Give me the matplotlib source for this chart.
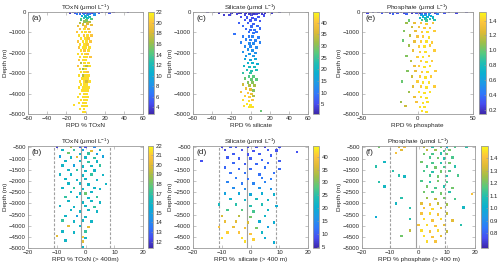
import numpy as np
import matplotlib
matplotlib.use("Agg")
import matplotlib.pyplot as plt
from matplotlib.colors import LinearSegmentedColormap

plt.rcParams['font.family'] = ['Liberation Sans', 'DejaVu Sans']
plt.rcParams['mathtext.fontset'] = 'custom'
plt.rcParams['mathtext.rm'] = 'Liberation Sans'

# (RPD %, depth m, concentration)
toxn_all = [
    (-16, -30, 3.5), (-13, -10, 4), (-11, -60, 5), (-8, -20, 3), (-6, -90, 6), (-5, -10, 2.8),
    (-3, -40, 4), (-2, -120, 8), (-1, -20, 3), (0, -70, 5), (1, -10, 3), (2, -150, 9), (3, -40, 4),
    (4, -100, 7), (5, -20, 3.5), (6, -60, 5), (7, -10, 3), (8, -30, 4), (10, -80, 6), (12, -20, 3),
    (14, -50, 5), (17, -10, 3), (21, -10, 4), (25, -30, 5), (29, -20, 3), (44, -10, 3), (-9, -110, 7),
    (9, -140, 8),
    (-4, -200, 10), (0, -230, 11), (4, -250, 12), (-2, -300, 13), (2, -320, 12), (6, -350, 14),
    (-5, -380, 14), (1, -420, 15), (-1, -480, 16), (4, -500, 17), (-6, -540, 17), (2, -580, 18),
    (-3, -620, 18), (6, -660, 19), (-8, -700, 19), (0, -720, 20),
    (-6, -850, 20), (-1, -850, 21), (3, -850, 20),
    (-9, -1000, 20), (-4, -1000, 21), (0, -1000, 21), (4, -1000, 20),
    (-7, -1150, 21), (-2, -1150, 20), (2, -1150, 21), (6, -1150, 20),
    (-5, -1300, 21), (0, -1300, 21), (3, -1300, 20),
    (-8, -1450, 20), (-3, -1450, 21), (1, -1450, 21), (5, -1450, 20),
    (-6, -1600, 21), (-1, -1600, 21), (2, -1600, 20),
    (-7, -1750, 20), (-3, -1750, 21), (0, -1750, 21), (4, -1750, 21),
    (-5, -1900, 21), (-1, -1900, 20), (3, -1900, 21),
    (-8, -2050, 21), (-4, -2050, 21), (0, -2050, 21), (2, -2050, 20),
    (-6, -2200, 21), (-2, -2200, 21), (1, -2200, 21), (5, -2200, 20),
    (-7, -2350, 20), (-3, -2350, 21), (0, -2350, 21),
    (-5, -2500, 17), (-1, -2500, 21), (3, -2500, 21),
    (-8, -2650, 20), (-2, -2650, 21), (1, -2650, 17), (4, -2650, 21),
    (-6, -2800, 21), (-3, -2800, 16), (0, -2800, 21),
    (-5, -2950, 21), (-1, -2950, 21), (2, -2950, 20),
    (-7, -3100, 21), (-3, -3100, 17), (0, -3100, 21), (3, -3100, 21),
    (-4, -3250, 21), (-1, -3250, 21), (2, -3250, 21),
    (-6, -3400, 21), (-2, -3400, 21), (1, -3400, 18), (4, -3400, 21),
    (-5, -3550, 21), (-2, -3550, 21), (1, -3550, 21),
    (-7, -3700, 21), (-3, -3700, 21), (0, -3700, 21), (3, -3700, 21),
    (-4, -3850, 21), (-1, -3850, 21), (2, -3850, 21),
    (-6, -4000, 21), (-2, -4000, 21), (1, -4000, 21),
    (-8, -4150, 21), (-3, -4150, 21), (0, -4150, 21), (2, -4150, 21),
    (-5, -4300, 21), (-1, -4300, 21), (1, -4300, 21),
    (-7, -4450, 21), (-3, -4450, 21), (0, -4450, 21),
    (-12, -4550, 21), (-4, -4600, 21), (-1, -4600, 21), (1, -4600, 21),
    (-6, -4750, 21), (-2, -4750, 21), (-3, -4900, 21), (-1, -4900, 21),
]

silicate_all = [
    (-45, -20, 2), (-38, -10, 3), (-33, -40, 2), (-28, -150, 3), (-25, -20, 2), (-20, -60, 3),
    (-17, -10, 2), (-14, -100, 4), (-12, -30, 2), (-10, -70, 3), (-8, -10, 2), (-6, -130, 4),
    (-5, -40, 2), (-3, -20, 1.5), (-2, -80, 3), (-1, -10, 2), (0, -50, 2), (1, -160, 4), (2, -20, 2),
    (3, -90, 3), (4, -30, 2), (5, -10, 2), (6, -120, 4), (8, -50, 3), (10, -20, 2), (12, -90, 3),
    (15, -30, 2), (18, -10, 2), (22, -60, 3), (30, -20, 2), (-22, -170, 4), (14, -180, 5),
    (-10, -250, 5), (-4, -280, 6), (2, -300, 5), (8, -260, 6), (-6, -400, 6), (0, -420, 6),
    (5, -380, 7), (10, -450, 6), (-12, -550, 7), (-3, -550, 7), (3, -600, 7), (-8, -700, 8),
    (1, -720, 8), (7, -700, 8), (-5, -850, 8), (0, -880, 8), (4, -900, 9), (10, -820, 8),
    (-2, -1000, 9), (3, -1050, 9), (6, -1000, 9), (-17, -1100, 9),
    (-8, -1200, 10), (-2, -1200, 10), (2, -1200, 11), (8, -1250, 10), (-5, -1350, 11),
    (0, -1380, 11), (5, -1400, 11), (-10, -1500, 11), (-1, -1550, 12), (3, -1550, 12),
    (10, -1500, 11), (-6, -1700, 12), (0, -1700, 12), (6, -1750, 12), (-3, -1850, 13),
    (2, -1900, 13), (-8, -1950, 13), (5, -2000, 13), (-1, -2050, 14), (3, -2150, 14), (-5, -2150, 14),
    (-6, -2300, 16), (0, -2350, 17), (5, -2300, 17), (-3, -2500, 19), (2, -2500, 19), (7, -2550, 18),
    (-7, -2650, 20), (-1, -2700, 21), (4, -2700, 21), (-4, -2850, 22), (1, -2900, 23), (6, -2850, 22),
    (-8, -3000, 24), (0, -3000, 24),
    (-2, -3150, 26), (3, -3150, 27), (-6, -3250, 28), (1, -3300, 28), (6, -3300, 27), (-3, -3450, 30),
    (2, -3450, 30),
    (-8, -3550, 35), (-1, -3600, 33), (4, -3600, 32), (-5, -3750, 38), (0, -3800, 37), (3, -3850, 30),
    (-10, -3900, 39), (-3, -3950, 40), (1, -4000, 38), (-6, -4100, 41), (-1, -4150, 41), (3, -4100, 33),
    (-8, -4300, 42), (-2, -4350, 42), (2, -4300, 40), (-4, -4500, 43), (0, -4550, 43), (-7, -4600, 42),
    (-1, -4650, 43), (2, -4650, 42), (11, -4850, 28),
]

phosphate_all = [
    (-48, -10, 0.2), (-45, -30, 0.25), (-40, -10, 0.2), (-35, -20, 0.2), (-32, -50, 0.3), (-28, -10, 0.2),
    (-25, -40, 0.25), (-20, -20, 0.2), (-18, -60, 0.3), (-15, -10, 0.2), (-12, -30, 0.25), (-10, -80, 0.35),
    (-8, -10, 0.2), (-5, -40, 0.2), (-3, -20, 0.2), (-1, -60, 0.3), (0, -10, 0.2), (2, -30, 0.2),
    (4, -90, 0.4), (5, -20, 0.2), (7, -50, 0.3), (9, -10, 0.2), (11, -70, 0.35), (13, -20, 0.2),
    (16, -40, 0.25), (20, -10, 0.2), (24, -60, 0.3), (28, -20, 0.2), (35, -30, 0.25), (44, -10, 0.2),
    (-22, -90, 0.35), (18, -110, 0.45),
    (3, -150, 0.55), (7, -170, 0.6), (10, -140, 0.55), (12, -200, 0.65), (5, -230, 0.7), (9, -260, 0.7),
    (14, -280, 0.75), (2, -300, 0.75), (7, -330, 0.8), (11, -360, 0.85), (4, -400, 0.9), (8, -430, 0.9),
    (-8, -420, 1.0), (15, -400, 0.85),
    (-10, -550, 1.1), (-3, -550, 1.3), (3, -550, 1.35), (8, -600, 1.4), (14, -550, 1.35),
    (-5, -750, 1.2), (1, -750, 1.35), (6, -800, 1.4), (11, -780, 1.4),
    (-12, -950, 1.05), (-2, -950, 1.3), (4, -1000, 1.4), (9, -1000, 1.45), (15, -950, 1.4),
    (-7, -1150, 1.15), (0, -1200, 1.35), (5, -1200, 1.4), (10, -1250, 1.45),
    (-13, -1400, 1.0), (-3, -1450, 1.3), (3, -1450, 1.4), (8, -1450, 1.45), (13, -1500, 1.4),
    (-8, -1650, 1.1), (1, -1700, 1.4), (6, -1700, 1.45), (11, -1650, 1.4),
    (-4, -1900, 1.3), (2, -1950, 1.4), (7, -1950, 1.45), (15, -1900, 1.4),
    (-10, -2150, 1.05), (0, -2200, 1.4), (5, -2200, 1.45), (10, -2150, 1.4),
    (-6, -2400, 1.15), (3, -2400, 1.4), (8, -2450, 1.45), (13, -2400, 1.4),
    (-3, -2650, 1.3), (1, -2650, 1.4), (6, -2700, 1.45), (11, -2650, 1.45),
    (-9, -2900, 1.05), (-2, -2900, 1.3), (4, -2950, 1.4), (9, -2950, 1.45), (16, -2900, 1.4),
    (-5, -3150, 1.2), (2, -3150, 1.4), (7, -3200, 1.45), (12, -3150, 1.4),
    (-14, -3400, 1.0), (0, -3400, 1.4), (5, -3450, 1.45), (10, -3450, 1.45),
    (-4, -3650, 1.25), (3, -3650, 1.4), (8, -3700, 1.45), (15, -3650, 1.4),
    (-8, -3900, 1.1), (1, -3900, 1.45), (6, -3950, 1.45), (11, -3900, 1.45),
    (-3, -4150, 1.3), (3, -4150, 1.45), (8, -4200, 1.45),
    (-15, -4400, 1.1), (-1, -4400, 1.35), (5, -4450, 1.45), (9, -4400, 1.45),
    (-11, -4600, 1.2), (2, -4650, 1.45), (6, -4650, 1.45), (4, -4850, 1.45), (8, -4900, 1.45),
]

toxn_deep = [
    (-10, -460, 12), (-2, -460, 13), (0, -460, 12.5), (3, -470, 14), (-5, -470, 19),
    (-8, -600, 16), (-4, -620, 17), (-1, -600, 15), (2, -650, 20), (5, -620, 16),
    (-6, -750, 18), (-2, -780, 16), (1, -760, 17), (4, -800, 15),
    (-9, -900, 15), (-5, -950, 16), (-3, -920, 20), (0, -950, 16), (3, -980, 17), (6, -900, 15),
    (-7, -1100, 16), (-2, -1100, 16), (1, -1150, 17), (4, -1120, 16),
    (-8, -1300, 16), (-4, -1300, 15), (-1, -1350, 16), (2, -1330, 16), (5, -1300, 17),
    (-6, -1500, 16), (-3, -1500, 17), (0, -1550, 16), (3, -1520, 16),
    (-9, -1700, 16), (-5, -1700, 16), (-1, -1750, 16), (2, -1700, 17), (6, -1720, 16),
    (-7, -1900, 16), (-3, -1950, 16), (0, -1900, 16), (4, -1950, 16),
    (-6, -2100, 16), (-2, -2100, 16), (1, -2150, 16), (7, -2130, 16),
    (-8, -2300, 16), (-4, -2300, 17), (-1, -2350, 16), (3, -2320, 16), (5, -2350, 16),
    (-5, -2500, 16), (-2, -2550, 16), (0, -2550, 18), (2, -2500, 16),
    (-7, -2700, 17), (-3, -2700, 16), (1, -2750, 16), (4, -2720, 17),
    (-6, -2900, 16), (-1, -2950, 16), (2, -2900, 16), (5, -2950, 16),
    (-9, -3100, 16), (-4, -3150, 16), (0, -3100, 16), (3, -3150, 17),
    (-5, -3300, 16), (-2, -3350, 16), (1, -3300, 16), (4, -3350, 16),
    (-7, -3550, 16), (-3, -3550, 15), (0, -3600, 16),
    (-8, -3750, 17), (-4, -3800, 16), (-1, -3750, 16), (2, -3800, 16),
    (-6, -4000, 20), (-2, -4000, 16), (1, -4050, 20),
    (-8, -4250, 16), (-4, -4300, 16), (0, -4250, 17),
    (-10, -4450, 20), (-1, -4500, 21), (0, -4550, 16),
    (-7, -4650, 16), (-1, -4700, 20), (-1, -4950, 16),
]

silicate_deep = [
    (-10, -460, 8), (-5, -470, 9), (-1, -460, 8), (2, -470, 9), (5, -460, 8), (10, -470, 9), (-7, -470, 10),
    (16, -700, 9), (-9, -600, 8), (-3, -620, 9), (1, -650, 9), (6, -600, 10), (9, -630, 9),
    (-6, -800, 10), (-1, -820, 9), (3, -800, 10), (7, -850, 10),
    (-17, -1100, 9), (-8, -950, 10), (-4, -1000, 10), (0, -1000, 10), (4, -1050, 11), (10, -1100, 10),
    (-6, -1200, 11), (-2, -1250, 10), (2, -1250, 11), (6, -1200, 11),
    (-9, -1400, 11), (-4, -1450, 11), (0, -1450, 11), (5, -1400, 12), (10, -1450, 11),
    (-7, -1650, 12), (-2, -1650, 12), (3, -1700, 12), (8, -1650, 12),
    (-5, -1850, 13), (-1, -1900, 12), (4, -1850, 13), (7, -1900, 13),
    (-8, -2050, 14), (-3, -2100, 13), (1, -2100, 14), (5, -2050, 14),
    (-6, -2300, 15), (-2, -2350, 15), (3, -2300, 16), (7, -2350, 16),
    (-9, -2550, 18), (-4, -2550, 19), (0, -2600, 19), (4, -2550, 20), (8, -2600, 21),
    (-7, -2800, 21), (-2, -2850, 22), (2, -2800, 23), (6, -2850, 22),
    (-11, -3050, 23), (-5, -3050, 25), (0, -3100, 25), (4, -3050, 24), (9, -3100, 20),
    (-8, -3300, 27), (-3, -3300, 28), (1, -3350, 27), (6, -3300, 22),
    (-10, -3550, 36), (-4, -3550, 34), (0, -3600, 30), (5, -3550, 22),
    (-9, -3800, 38), (-5, -3800, 37), (-1, -3850, 36), (3, -3800, 20), (8, -3850, 20),
    (-11, -4050, 40), (-6, -4050, 38), (-2, -4100, 39), (2, -4100, 30), (6, -4050, 18),
    (-8, -4300, 41), (-4, -4300, 40), (0, -4350, 40), (4, -4300, 22),
    (-10, -4550, 42), (-3, -4550, 42), (1, -4600, 41), (5, -4550, 20),
    (-2, -4700, 42), (8, -4750, 20),
]

phosphate_deep = [
    (-14, -470, 1.2), (-7, -470, 1.35), (-5, -480, 1.4), (2, -470, 1.3), (5, -460, 1.1), (8, -470, 1.2),
    (10, -460, 1.0), (13, -470, 1.15), (17, -470, 1.1),
    (-6, -600, 1.35), (3, -620, 1.3), (6, -600, 1.25), (9, -650, 1.15), (11, -620, 1.2),
    (-8, -750, 1.4), (2, -780, 1.2), (5, -800, 1.15), (8, -760, 1.1), (10, -800, 1.2),
    (4, -950, 1.15), (7, -980, 1.2), (9, -1000, 1.1), (12, -950, 1.15),
    (-12, -1150, 1.05), (1, -1150, 1.2), (5, -1200, 1.15), (8, -1180, 1.1), (11, -1200, 1.2),
    (-15, -1350, 1.1), (3, -1350, 1.15), (6, -1400, 1.2), (9, -1380, 1.15), (13, -1350, 1.1),
    (-9, -1550, 1.1), (2, -1550, 1.15), (5, -1600, 1.1), (8, -1580, 1.2), (11, -1550, 1.15),
    (-7, -1750, 1.1), (-5, -1800, 1.05), (4, -1750, 1.15), (7, -1800, 1.2), (10, -1780, 1.1), (14, -1750, 1.15),
    (-14, -2050, 1.1), (1, -2000, 1.15), (4, -2050, 1.1), (7, -2000, 1.2), (10, -2050, 1.15),
    (-12, -2250, 1.05), (3, -2250, 1.2), (6, -2300, 1.15), (9, -2250, 1.1), (12, -2300, 1.2),
    (2, -2500, 1.2), (5, -2500, 1.15), (8, -2550, 1.2), (11, -2500, 1.1), (19, -2580, 1.4),
    (-6, -2750, 1.1), (3, -2750, 1.25), (6, -2800, 1.3), (9, -2750, 1.2), (13, -2800, 1.15),
    (-8, -3000, 1.05), (1, -3000, 1.35), (4, -3050, 1.4), (7, -3000, 1.3), (10, -3050, 1.25),
    (-3, -3200, 1.1), (2, -3200, 1.4), (5, -3250, 1.45), (8, -3200, 1.35), (16, -3170, 1.05),
    (-15, -3600, 1.0), (1, -3450, 1.4), (4, -3450, 1.45), (7, -3500, 1.4), (10, -3450, 1.3),
    (-3, -3700, 1.1), (2, -3700, 1.45), (5, -3750, 1.4), (8, -3700, 1.45), (12, -3750, 1.35),
    (0, -3950, 1.4), (3, -3950, 1.45), (6, -4000, 1.4), (9, -3950, 1.35), (15, -3950, 1.1),
    (-3, -4200, 1.3), (1, -4200, 1.45), (4, -4250, 1.4), (7, -4200, 1.45), (10, -4250, 1.3),
    (-6, -4450, 1.2), (2, -4450, 1.45), (5, -4500, 1.4), (8, -4450, 1.35),
    (3, -4700, 1.45), (6, -4700, 1.4),
]

titles = ['TOxN (μmol L$^{-1}$)', 'Silicate (μmol L$^{-1}$)', 'Phosphate (μmol L$^{-1}$)']
xlabels_all = ['RPD % TOxN', 'RPD % silicate', 'RPD % phosphate']
xlabels_deep = ['RPD % TOxN (> 400m)', 'RPD %  silicate (> 400 m)', 'RPD % phosphate (> 400 m)']
clims_all = [(2.7, 22.1), (0.7, 44.7), (0.14, 1.52)]
clims_deep = [(11.3, 22.0), (4.6, 44.2), (0.68, 1.5)]
cticks_all = [np.arange(4, 23, 2), np.arange(5, 41, 5), [0.2, 0.4, 0.6, 0.8, 1, 1.2, 1.4]]
cticks_deep = [np.arange(12, 23, 1), np.arange(5, 41, 5), [0.8, 0.9, 1, 1.1, 1.2, 1.3, 1.4]]
# mean and +/- 2 sd lines in lower panels
mean_lines = [-1.5, -1.2, -0.8]
sd_lines = [(-11.0, 8.5), (-10.9, 8.9), (-10.0, 9.5)]

# parula-like colormap
parula = LinearSegmentedColormap.from_list('parula', [
    (0.00, (0.2422, 0.1504, 0.6603)),
    (0.10, (0.2780, 0.3030, 0.9420)),
    (0.20, (0.1900, 0.4700, 0.9800)),
    (0.30, (0.1200, 0.6000, 0.9000)),
    (0.40, (0.0400, 0.6900, 0.8200)),
    (0.50, (0.1300, 0.7450, 0.7000)),
    (0.60, (0.3500, 0.7900, 0.4900)),
    (0.70, (0.6200, 0.7500, 0.2900)),
    (0.80, (0.8700, 0.7300, 0.2100)),
    (0.90, (0.9900, 0.7700, 0.2400)),
    (1.00, (0.9769, 0.9839, 0.0805)),
])

W, H = 500.0, 269.0
fig = plt.figure(figsize=(5, 2.69), dpi=100)

edge = '#9a9a9a'
txt = '#262626'

# pixel boxes: (left, right, cbar_left, cbar_right)
cols_top = [(28, 143.3, 148.3, 153.8), (193, 308.3, 313.3, 318.8), (362, 473.3, 479.3, 486.3)]
cols_bot = [(28, 143.3, 147.7, 153.3), (193, 308.3, 313.3, 319.3), (362, 475, 480.7, 487.7)]
row_top = (11.7, 114.3)
row_bot = (145.7, 248.3)


def box(l, r, t, b):
    return [l / W, 1 - b / H, (r - l) / W, (b - t) / H]


def style(ax):
    for s in ax.spines.values():
        s.set_color(edge)
        s.set_linewidth(0.6)
    ax.tick_params(direction='in', length=2, width=0.4, color=edge,
                   labelsize=4.3, labelcolor=txt, pad=1.5, top=True, right=True)


panels_all = [toxn_all, silicate_all, phosphate_all]
panels_deep = [toxn_deep, silicate_deep, phosphate_deep]
letters_top = ['(a)', '(c)', '(e)']
letters_bot = ['(b)', '(d)', '(f)']

for i in range(3):
    # upper row
    l, r, cl, cr = cols_top[i]
    ax = fig.add_axes(box(l, r, *row_top))
    d = np.array(panels_all[i], dtype=float)
    sc = ax.scatter(d[:, 0], d[:, 1], c=d[:, 2], cmap=parula, vmin=clims_all[i][0],
                    vmax=clims_all[i][1], s=3, marker='s', linewidths=0)
    if i == 2:
        ax.set_xlim(-50, 50)
        ax.set_xticks([-50, 0, 50])
    else:
        ax.set_xlim(-60, 60)
        ax.set_xticks(np.arange(-60, 61, 20))
    ax.set_ylim(-5000, 0)
    ax.set_yticks(np.arange(-5000, 1, 1000))
    style(ax)
    ax.set_title(titles[i], fontsize=4.6, color=txt, pad=1.5)
    ax.set_xlabel(xlabels_all[i], fontsize=4.6, color=txt, labelpad=1)
    ax.set_ylabel('Depth (m)', fontsize=4.6, color=txt, labelpad=1)
    ax.text(0.03, 0.93, letters_top[i], transform=ax.transAxes, fontsize=6,
            color=txt, va='center', ha='left')
    cax = fig.add_axes(box(cl, cr, *row_top))
    cb = fig.colorbar(sc, cax=cax, ticks=cticks_all[i])
    cb.outline.set_edgecolor(edge)
    cb.outline.set_linewidth(0.6)
    cax.tick_params(direction='in', length=1.5, width=0.4, color=edge,
                    labelsize=4.3, labelcolor=txt, pad=1.5)

    # lower row
    l, r, cl, cr = cols_bot[i]
    ax = fig.add_axes(box(l, r, *row_bot))
    d = np.array(panels_deep[i], dtype=float)
    for xv in sd_lines[i]:
        ax.axvline(xv, color='#a0a0a0', lw=0.8, ls=(0, (2.5, 1.5)), zorder=1)
    ax.axvline(mean_lines[i], color='#a0a0a0', lw=0.8, zorder=1)
    sc = ax.scatter(d[:, 0], d[:, 1], c=d[:, 2], cmap=parula, vmin=clims_deep[i][0],
                    vmax=clims_deep[i][1], s=3, marker='s', linewidths=0, zorder=2)
    ax.set_xlim(-20, 20)
    ax.set_xticks([-20, -10, 0, 10, 20])
    ax.set_ylim(-5000, -420)
    ax.set_yticks(np.arange(-5000, -499, 500))
    style(ax)
    ax.set_title(titles[i], fontsize=4.6, color=txt, pad=1.5)
    ax.set_xlabel(xlabels_deep[i], fontsize=4.6, color=txt, labelpad=1)
    ax.set_ylabel('Depth (m)', fontsize=4.6, color=txt, labelpad=1)
    ax.text(0.03, 0.93, letters_bot[i], transform=ax.transAxes, fontsize=6,
            color=txt, va='center', ha='left')
    cax = fig.add_axes(box(cl, cr, *row_bot))
    cb = fig.colorbar(sc, cax=cax, ticks=cticks_deep[i])
    cb.outline.set_edgecolor(edge)
    cb.outline.set_linewidth(0.6)
    cax.tick_params(direction='in', length=1.5, width=0.4, color=edge,
                    labelsize=4.3, labelcolor=txt, pad=1.5)

fig.savefig('out.png', dpi=100)
